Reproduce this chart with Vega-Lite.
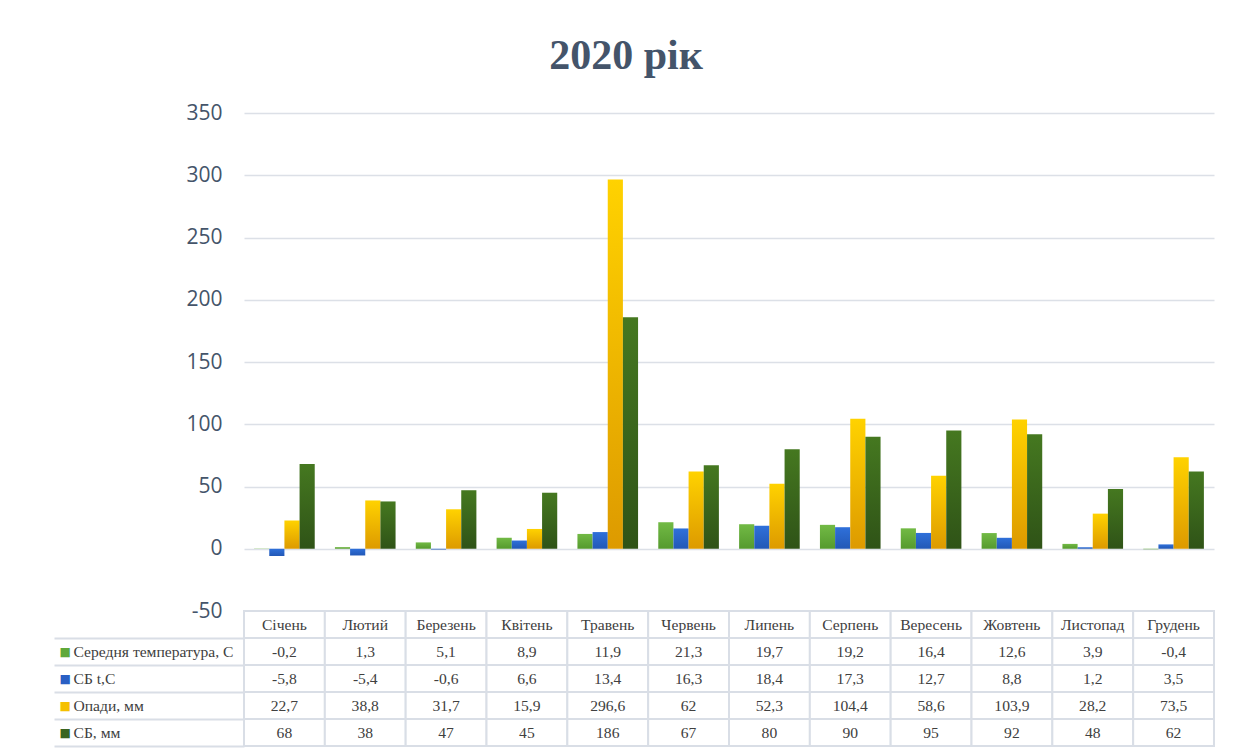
{
  "$schema": "https://vega.github.io/schema/vega-lite/v6.json",
  "padding": {"left": 53, "top": 35, "right": 20, "bottom": 5},
  "background": "white",
  "title": {"text": "2020 рік", "font": "Liberation Serif", "fontSize": 42, "fontWeight": "bold", "color": "#44546A", "anchor": "middle", "offset": 24, "dx": -8},
  "datasets": {
    "d": [
      {"month": "Січень", "series": "Середня температура, С", "value": -0.2},
      {"month": "Лютий", "series": "Середня температура, С", "value": 1.3},
      {"month": "Березень", "series": "Середня температура, С", "value": 5.1},
      {"month": "Квітень", "series": "Середня температура, С", "value": 8.9},
      {"month": "Травень", "series": "Середня температура, С", "value": 11.9},
      {"month": "Червень", "series": "Середня температура, С", "value": 21.3},
      {"month": "Липень", "series": "Середня температура, С", "value": 19.7},
      {"month": "Серпень", "series": "Середня температура, С", "value": 19.2},
      {"month": "Вересень", "series": "Середня температура, С", "value": 16.4},
      {"month": "Жовтень", "series": "Середня температура, С", "value": 12.6},
      {"month": "Листопад", "series": "Середня температура, С", "value": 3.9},
      {"month": "Грудень", "series": "Середня температура, С", "value": -0.4},
      {"month": "Січень", "series": "СБ t,C", "value": -5.8},
      {"month": "Лютий", "series": "СБ t,C", "value": -5.4},
      {"month": "Березень", "series": "СБ t,C", "value": -0.6},
      {"month": "Квітень", "series": "СБ t,C", "value": 6.6},
      {"month": "Травень", "series": "СБ t,C", "value": 13.4},
      {"month": "Червень", "series": "СБ t,C", "value": 16.3},
      {"month": "Липень", "series": "СБ t,C", "value": 18.4},
      {"month": "Серпень", "series": "СБ t,C", "value": 17.3},
      {"month": "Вересень", "series": "СБ t,C", "value": 12.7},
      {"month": "Жовтень", "series": "СБ t,C", "value": 8.8},
      {"month": "Листопад", "series": "СБ t,C", "value": 1.2},
      {"month": "Грудень", "series": "СБ t,C", "value": 3.5},
      {"month": "Січень", "series": "Опади, мм", "value": 22.7},
      {"month": "Лютий", "series": "Опади, мм", "value": 38.8},
      {"month": "Березень", "series": "Опади, мм", "value": 31.7},
      {"month": "Квітень", "series": "Опади, мм", "value": 15.9},
      {"month": "Травень", "series": "Опади, мм", "value": 296.6},
      {"month": "Червень", "series": "Опади, мм", "value": 62},
      {"month": "Липень", "series": "Опади, мм", "value": 52.3},
      {"month": "Серпень", "series": "Опади, мм", "value": 104.4},
      {"month": "Вересень", "series": "Опади, мм", "value": 58.6},
      {"month": "Жовтень", "series": "Опади, мм", "value": 103.9},
      {"month": "Листопад", "series": "Опади, мм", "value": 28.2},
      {"month": "Грудень", "series": "Опади, мм", "value": 73.5},
      {"month": "Січень", "series": "СБ, мм", "value": 68},
      {"month": "Лютий", "series": "СБ, мм", "value": 38},
      {"month": "Березень", "series": "СБ, мм", "value": 47},
      {"month": "Квітень", "series": "СБ, мм", "value": 45},
      {"month": "Травень", "series": "СБ, мм", "value": 186},
      {"month": "Червень", "series": "СБ, мм", "value": 67},
      {"month": "Липень", "series": "СБ, мм", "value": 80},
      {"month": "Серпень", "series": "СБ, мм", "value": 90},
      {"month": "Вересень", "series": "СБ, мм", "value": 95},
      {"month": "Жовтень", "series": "СБ, мм", "value": 92},
      {"month": "Листопад", "series": "СБ, мм", "value": 48},
      {"month": "Грудень", "series": "СБ, мм", "value": 62}
    ]
  },
  "data": {"name": "d"},
  "spacing": 0,
  "bounds": "flush",
  "resolve": {"scale": {"x": "independent", "y": "independent"}},
  "vconcat": [
    {
      "width": 970,
      "height": 498,
      "encoding": {
        "x": {"field": "month", "type": "nominal", "sort": ["Січень","Лютий","Березень","Квітень","Травень","Червень","Липень","Серпень","Вересень","Жовтень","Листопад","Грудень"], "scale": {"paddingInner": 0.25, "paddingOuter": 0.125}, "axis": null},
        "xOffset": {"field": "series", "type": "nominal", "scale": {"domain": ["Середня температура, С","СБ t,C","Опади, мм","СБ, мм"], "paddingInner": 0, "paddingOuter": 0}},
        "y": {"field": "value", "type": "quantitative", "scale": {"domain": [-50, 350], "nice": false}, "axis": {"values": [-50,0,50,100,150,200,250,300,350], "labelExpr": "toString(datum.value)", "title": null, "domain": false, "ticks": false, "labelPadding": 22, "labelFont": "Open Sans", "labelFontSize": 21, "labelColor": "#44546A", "gridColor": "#DCE0E7", "gridWidth": 1.5}}
      },
      "layer": [
        {"transform": [{"filter": "datum.series === 'Середня температура, С'"}], "mark": {"type": "bar", "color": {"gradient": "linear", "x1": 0, "y1": 0, "x2": 0, "y2": 1, "stops": [{"offset": 0, "color": "#72BA45"}, {"offset": 1, "color": "#559A2E"}]}}},
        {"transform": [{"filter": "datum.series === 'СБ t,C'"}], "mark": {"type": "bar", "color": {"gradient": "linear", "x1": 0, "y1": 0, "x2": 0, "y2": 1, "stops": [{"offset": 0, "color": "#2F70DA"}, {"offset": 1, "color": "#2258B6"}]}}},
        {"transform": [{"filter": "datum.series === 'Опади, мм'"}], "mark": {"type": "bar", "color": {"gradient": "linear", "x1": 0, "y1": 0, "x2": 0, "y2": 1, "stops": [{"offset": 0, "color": "#FFD200"}, {"offset": 1, "color": "#DD9A00"}]}}},
        {"transform": [{"filter": "datum.series === 'СБ, мм'"}], "mark": {"type": "bar", "color": {"gradient": "linear", "x1": 0, "y1": 0, "x2": 0, "y2": 1, "stops": [{"offset": 0, "color": "#457820"}, {"offset": 1, "color": "#2F5317"}]}}}
      ]
    },
    {
      "width": 970,
      "height": 135,
      "resolve": {"axis": {"y": "independent"}},
      "layer": [
        {
          "mark": {"type": "rect", "fill": "white", "stroke": "#D9DEE6", "strokeWidth": 2},
          "encoding": {
            "x": {"field": "month", "type": "nominal", "scale": {"domain": ["Січень","Лютий","Березень","Квітень","Травень","Червень","Липень","Серпень","Вересень","Жовтень","Листопад","Грудень"], "padding": 0}, "axis": null},
            "y": {"field": "series", "type": "nominal", "scale": {"domain": ["h","Середня температура, С","СБ t,C","Опади, мм","СБ, мм"], "padding": 0}, "axis": {"orient": "left", "title": null, "domain": false, "labels": false, "ticks": true, "tickSize": 190, "tickWidth": 2, "tickColor": "#D9DEE6", "bandPosition": 1, "grid": false}}
          }
        },
        {
          "transform": [{"calculate": "replace(toString(datum.value), '.', ',')", "as": "lbl"}],
          "mark": {"type": "text", "font": "Liberation Serif", "fontSize": 15.6, "color": "#404040"},
          "encoding": {
            "x": {"field": "month", "type": "nominal", "scale": {"domain": ["Січень","Лютий","Березень","Квітень","Травень","Червень","Липень","Серпень","Вересень","Жовтень","Листопад","Грудень"], "padding": 0}, "axis": null},
            "y": {"field": "series", "type": "nominal", "scale": {"domain": ["h","Середня температура, С","СБ t,C","Опади, мм","СБ, мм"], "padding": 0}, "axis": {"orient": "left", "title": null, "domain": false, "ticks": false, "grid": false, "labelAlign": "left", "labelBaseline": "middle", "labelPadding": 171, "labelLimit": 300, "labelFont": "Liberation Serif", "labelFontSize": 15.6, "labelColor": "#404040", "labelExpr": "datum.value == 'h' ? '' : datum.value"}},
            "text": {"field": "lbl"}
          }
        },
        {
          "transform": [{"aggregate": [{"op": "count", "as": "n"}], "groupby": ["month"]}],
          "mark": {"type": "rect", "fill": "white", "stroke": "#D9DEE6", "strokeWidth": 2},
          "encoding": {
            "x": {"field": "month", "type": "nominal", "scale": {"domain": ["Січень","Лютий","Березень","Квітень","Травень","Червень","Липень","Серпень","Вересень","Жовтень","Листопад","Грудень"], "padding": 0}, "axis": null},
            "y": {"datum": "h", "type": "nominal", "scale": {"domain": ["h","Середня температура, С","СБ t,C","Опади, мм","СБ, мм"], "padding": 0}, "axis": {"orient": "left", "title": null, "domain": false, "ticks": false, "grid": false, "labelAlign": "left", "labelBaseline": "middle", "labelPadding": 185, "labelFont": "DejaVu Sans", "labelFontSize": 12, "labelExpr": "datum.value == 'h' ? '' : '■'", "labelColor": {"condition": [{"test": "datum.value == 'Середня температура, С'", "value": "#5FA83A"}, {"test": "datum.value == 'СБ t,C'", "value": "#2A5FC4"}, {"test": "datum.value == 'Опади, мм'", "value": "#F5C000"}], "value": "#3A6420"}}}
          }
        },
        {
          "transform": [{"aggregate": [{"op": "count", "as": "n"}], "groupby": ["month"]}],
          "mark": {"type": "text", "font": "Liberation Serif", "fontSize": 15.6, "color": "#404040"},
          "encoding": {
            "x": {"field": "month", "type": "nominal", "scale": {"domain": ["Січень","Лютий","Березень","Квітень","Травень","Червень","Липень","Серпень","Вересень","Жовтень","Листопад","Грудень"], "padding": 0}, "axis": null},
            "y": {"datum": "h", "type": "nominal", "scale": {"domain": ["h","Середня температура, С","СБ t,C","Опади, мм","СБ, мм"], "padding": 0}, "axis": null},
            "text": {"field": "month"}
          }
        }
      ]
    }
  ],
  "config": {"view": {"stroke": null}}
}
